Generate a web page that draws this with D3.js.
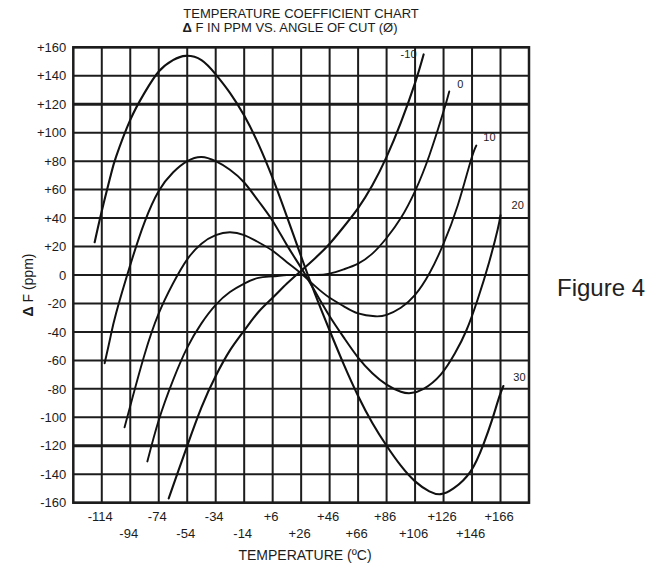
<!DOCTYPE html>
<html>
<head>
<meta charset="utf-8">
<script src="https://cdn.jsdelivr.net/npm/d3@7"></script>
<style>
  html, body { margin: 0; padding: 0; background: #fff; }
  svg { display: block; font-family: "Liberation Sans", Arial, sans-serif; }
</style>
</head>
<body>
<svg id="chart" width="663" height="572"></svg>
<script>
// ---------- data ----------
const titleLine1 = "TEMPERATURE COEFFICIENT CHART";
const titleLine2 = "F IN PPM VS. ANGLE OF CUT (Ø)";
const xTitle = "TEMPERATURE (ºC)";
const yTitle = "F (ppm)";
const figureLabel = "Figure 4";

const xTickValues = [-114, -94, -74, -54, -34, -14, 6, 26, 46, 66, 86, 106, 126, 146, 166];
const yTickValues = [-160, -140, -120, -100, -80, -60, -40, -20, 0, 20, 40, 60, 80, 100, 120, 140, 160];

const curveNames = ["30", "20", "10", "0", "-10"];

const temps30 = [-119, -114, -108, -104, -94, -84, -74, -64, -55, -44, -34, -24, -14, -4, 6, 16, 26, 36, 46, 56, 66, 76, 86, 96, 106, 116, 124, 133, 145, 154, 160, 165, 168];
const ppm30   = [23, 45, 69, 83, 109, 128, 143, 151, 154, 151, 141, 128, 112, 92, 68, 41, 13, -14, -39, -63, -85, -104, -120, -134, -145, -152, -154, -150, -138, -119, -102, -86, -78];

const temps20 = [-112, -108, -104, -94, -84, -74, -64, -54, -44, -34, -24, -14, -4, 6, 16, 26, 36, 46, 56, 66, 76, 86, 96, 103, 112, 124, 134, 142, 150, 158, 164, 166];
const ppm20   = [-62, -44, -27, 7, 37, 59, 72, 80, 83, 80, 74, 65, 52, 38, 21, 5, -12, -29, -44, -58, -69, -77, -82, -83, -80, -70, -55, -39, -17, 9, 32, 42];

const temps10 = [-98, -94, -84, -74, -64, -54, -44, -34, -24, -14, -4, 6, 16, 26, 36, 46, 56, 66, 78, 86, 96, 106, 116, 126, 136, 145, 149];
const ppm10   = [-107, -92, -56, -27, -6, 11, 22, 28, 30, 28, 23, 17, 9, 1, -8, -16, -22, -27, -29, -28, -23, -14, 1, 22, 49, 80, 91];

const temps0 = [-82, -74, -64, -54, -44, -34, -24, -14, -4, 6, 16, 26, 36, 46, 56, 66, 76, 86, 96, 106, 116, 126, 130];
const ppm0   = [-131, -102, -74, -51, -34, -21, -12, -6, -2, -1, 0, 0, 0, 1, 4, 8, 15, 26, 40, 59, 84, 115, 129];

const tempsM10 = [-67, -60, -54, -44, -34, -24, -14, -4, 6, 16, 26, 36, 46, 56, 66, 76, 86, 96, 106, 112];
const ppmM10   = [-157, -137, -120, -93, -71, -53, -39, -26, -16, -6, 3, 12, 22, 34, 47, 63, 83, 107, 135, 155];

// ---------- layout / style ----------
const svg = d3.select("#chart");
const x = d3.scaleLinear().domain([-134, 186]).range([73.3, 529]);
const y = d3.scaleLinear().domain([-160, 160]).range([502.7, 47.3]);
const ink = "#1c1c1c";

const series = [
  { name: curveNames[0], t: temps30, v: ppm30, dx: 10, dy: -8, w: 2.1 },
  { name: curveNames[1], t: temps20, v: ppm20, dx: 11, dy: -9, w: 2.0 },
  { name: curveNames[2], t: temps10, v: ppm10, dx: 7, dy: -7, w: 1.9 },
  { name: curveNames[3], t: temps0,  v: ppm0,  dx: 8, dy: -6, w: 1.9 },
  { name: curveNames[4], t: tempsM10, v: ppmM10, dx: -23, dy: 1, w: 2.1 }
];

// ---------- grid ----------
const grid = svg.append("g");
grid.selectAll("line.h").data(yTickValues).join("line")
  .attr("x1", x(-134)).attr("x2", x(186))
  .attr("y1", d => y(d)).attr("y2", d => y(d))
  .attr("stroke", ink)
  .attr("stroke-width", d => (Math.abs(d) === 120 ? 3 : 2));
grid.selectAll("line.v").data(xTickValues).join("line")
  .attr("y1", y(-160)).attr("y2", y(160))
  .attr("x1", d => x(d)).attr("x2", d => x(d))
  .attr("stroke", ink).attr("stroke-width", 2);
grid.append("rect")
  .attr("x", x(-134)).attr("y", y(160))
  .attr("width", x(186) - x(-134)).attr("height", y(-160) - y(160))
  .attr("fill", "none").attr("stroke", ink).attr("stroke-width", 2.5);

// ---------- axes ----------
const yAxis = d3.axisLeft(y).tickValues(yTickValues).tickSize(0).tickPadding(6)
  .tickFormat(d => (d > 0 ? "+" + d : String(d)));
const gy = svg.append("g").attr("transform", `translate(${x(-134)},0)`).call(yAxis);
gy.select(".domain").remove();
gy.selectAll("text").attr("font-size", 13).attr("fill", ink)
  .attr("font-family", "'Liberation Sans', Arial, sans-serif").attr("dx", -1);

const xAxis = d3.axisBottom(x).tickValues(xTickValues).tickSize(0)
  .tickFormat(d => (d > 0 ? "+" + d : String(d)));
const gx = svg.append("g").attr("transform", `translate(0,${y(-160)})`).call(xAxis);
gx.select(".domain").remove();
gx.selectAll("text").attr("font-size", 13).attr("fill", ink)
  .attr("font-family", "'Liberation Sans', Arial, sans-serif")
  .attr("dx", -2)
  .attr("y", (d, i) => (i % 2 === 0 ? 9 : 26));

// ---------- curves ----------
const line = d3.line().x(d => x(d[0])).y(d => y(d[1])).curve(d3.curveNatural);
const curves = svg.append("g");
series.forEach(s => {
  const pts = s.t.map((t, i) => [t, s.v[i]]);
  curves.append("path").datum(pts)
    .attr("d", line).attr("fill", "none")
    .attr("stroke", "#111").attr("stroke-width", s.w)
    .attr("stroke-linecap", "round").attr("stroke-linejoin", "round");
  const last = pts[pts.length - 1];
  curves.append("text")
    .attr("x", x(last[0]) + s.dx).attr("y", y(last[1]) + s.dy)
    .attr("font-size", 11).attr("fill", ink).attr("text-anchor", "start")
    .attr("dominant-baseline", "middle")
    .text(s.name);
});

// ---------- titles ----------
svg.append("text").attr("x", 301).attr("y", 18).attr("text-anchor", "middle")
  .attr("font-size", 13).attr("fill", ink).text(titleLine1);
const t2 = svg.append("text").attr("x", 290).attr("y", 32).attr("text-anchor", "middle")
  .attr("font-size", 13).attr("fill", ink);
t2.append("tspan").attr("font-weight", "bold").text("Δ");
t2.append("tspan").text(" " + titleLine2);

svg.append("text").attr("x", 305).attr("y", 560).attr("text-anchor", "middle")
  .attr("font-size", 14).attr("fill", ink).text(xTitle);

const yt = svg.append("text").attr("transform", "translate(33,285) rotate(-90)")
  .attr("text-anchor", "middle").attr("font-size", 14).attr("fill", ink);
yt.append("tspan").attr("font-weight", "bold").text("Δ");
yt.append("tspan").text(" " + yTitle);

svg.append("text").attr("x", 557).attr("y", 296)
  .attr("font-size", 24).attr("fill", "#222").text(figureLabel);
</script>
</body>
</html>
